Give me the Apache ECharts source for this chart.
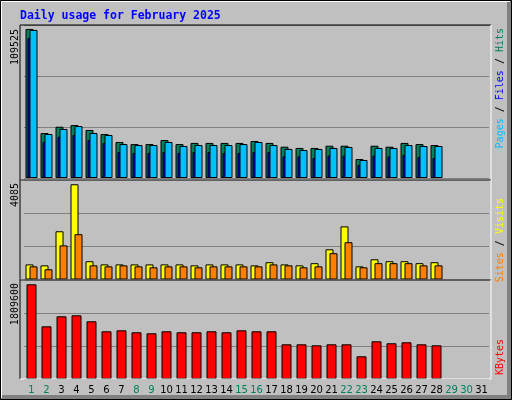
<!DOCTYPE html>
<html>
<head>
<meta charset="utf-8">
<script src="https://cdn.jsdelivr.net/npm/echarts@6/dist/echarts.min.js"></script>
<style>
html, body { margin: 0; padding: 0; background: #c0c0c0; }
#chart { width: 512px; height: 400px; }
</style>
</head>
<body>
<div id="chart"></div>
<script>
// daily usage, February 2025
var days = [];
for (var d = 1; d <= 31; d++) days.push(String(d));
var weekendDays = ['1', '2', '8', '9', '15', '16', '22', '23', '29', '30'];

var hits = [106700, 32200, 36700, 37900, 34400, 31500, 25800, 24300, 24300, 27200, 24300, 25100, 25100, 25100, 25100, 26500,
    25100, 22400, 21500, 21500, 23100, 23100, 13600, 23100, 22400, 25100, 24300, 23600];
var files = [106000, 31500, 35100, 37200, 32200, 30800, 24300, 23600, 23600, 25800, 22900, 23600, 23600, 23600, 24300, 25800,
    23600, 20800, 20000, 20800, 21500, 22200, 12900, 21500, 21500, 23600, 22900, 22900];
var pages = [100200, 25800, 29400, 30800, 27200, 25100, 18600, 17900, 17900, 18600, 17900, 18600, 18600, 17900, 17900, 18600,
    18600, 15500, 15500, 14300, 16000, 16000, 9300, 16000, 15500, 16500, 15000, 14300];
var visits = [620, 580, 1980, 3910, 750, 620, 620, 620, 620, 620, 620, 580, 620, 620, 620, 580,
    710, 620, 580, 670, 1240, 2180, 540, 830, 750, 750, 670, 710];
var sites = [540, 420, 1400, 1860, 580, 540, 580, 540, 500, 540, 540, 500, 540, 540, 540, 540,
    620, 580, 500, 540, 1080, 1530, 500, 670, 670, 670, 580, 580];
var kbytes = [1731000, 963000, 1146000, 1164000, 1055000, 872000, 890000, 854000, 835000, 872000, 854000, 854000, 872000, 854000, 890000, 872000,
    872000, 634000, 634000, 616000, 634000, 634000, 415000, 689000, 653000, 671000, 634000, 616000];

var maxLabels = ['109525', '4085', '1809600'];
var axisMax = [109525, 4085, 1809600];

var chart = echarts.init(document.getElementById('chart'));

var FONT = '"DejaVu Sans Mono", monospace';

function yAxisFor(i) {
    return {
        gridIndex: i, type: 'value', min: 0, max: axisMax[i], interval: axisMax[i] / 3,
        axisLabel: { show: false }, axisLine: { show: false }, axisTick: { show: false },
        splitLine: { lineStyle: { color: '#808080', width: 1 } }
    };
}
function xAxisFor(i) {
    var bottom = i === 2;
    return {
        gridIndex: i, type: 'category', data: days,
        axisLine: { show: false }, axisTick: { show: false },
        axisLabel: bottom ? {
            show: true, interval: 0, margin: 6, fontFamily: 'DejaVu Sans', fontSize: 10,
            formatter: function (v) { return weekendDays.indexOf(v) >= 0 ? '{w|' + v + '}' : '{n|' + v + '}'; },
            rich: { w: { color: '#00805c', fontSize: 10 }, n: { color: '#000', fontSize: 10 } }
        } : { show: false }
    };
}
function barSeries(name, data, color, idx, width, gap) {
    return {
        name: name, type: 'bar', xAxisIndex: idx, yAxisIndex: idx, data: data,
        barWidth: width, barGap: gap, animation: false,
        itemStyle: { color: color, borderColor: '#000', borderWidth: 1 }
    };
}

function vtext(x, y, text, rich, align) {
    return {
        type: 'text', x: x, y: y, rotation: Math.PI / 2, z: 10,
        style: { text: text, rich: rich, align: align, verticalAlign: 'middle', font: '10px ' + FONT, fill: '#000' }
    };
}
function frame(top, h) {
    return [
        { type: 'line', shape: { x1: 20, y1: top, x2: 491, y2: top }, style: { stroke: '#000', lineWidth: 1 }, z: 5 },
        { type: 'line', shape: { x1: 20, y1: top, x2: 20, y2: top + h }, style: { stroke: '#000', lineWidth: 1 }, z: 5 },
        { type: 'line', shape: { x1: 491, y1: top, x2: 491, y2: top + h }, style: { stroke: '#fff', lineWidth: 1 }, z: 5 },
        { type: 'line', shape: { x1: 20, y1: top + h, x2: 491, y2: top + h }, style: { stroke: '#fff', lineWidth: 1 }, z: 5 }
    ];
}

var graphics = [
    { type: 'rect', shape: { x: 507, y: 0, width: 5, height: 400 }, style: { fill: '#808080' }, z: 1 },
    { type: 'rect', shape: { x: 0, y: 395, width: 512, height: 5 }, style: { fill: '#808080' }, z: 1 },
    { type: 'rect', shape: { x: 0.5, y: 0.5, width: 511, height: 399 }, style: { fill: null, stroke: '#000', lineWidth: 1 }, z: 2 },
    { type: 'polyline', shape: { points: [[1.5, 398], [1.5, 1.5], [510, 1.5]] }, style: { stroke: '#fff', lineWidth: 1 }, z: 2 },
    { type: 'text', x: 20, y: 16, style: { text: 'Daily usage for February 2025', font: 'bold 11.5px ' + FONT, fill: '#0000ff', verticalAlign: 'middle' } },
    vtext(15, 29, maxLabels[0], null, 'right'),
    vtext(15, 183, maxLabels[1], null, 'right'),
    vtext(15, 283, maxLabels[2], null, 'right'),
    vtext(500, 28, '{p|Pages} / {f|Files} / {h|Hits}', {
        p: { fill: '#00c0ff', font: '10px ' + FONT }, f: { fill: '#0000ff', font: '10px ' + FONT }, h: { fill: '#00805c', font: '10px ' + FONT }
    }, 'right'),
    vtext(500, 198, '{s|Sites} / {v|Visits}', {
        s: { fill: '#ff8000', font: '10px ' + FONT }, v: { fill: '#ffff00', font: '10px ' + FONT }
    }, 'right'),
    vtext(500, 339, '{k|KBytes}', { k: { fill: '#ff0000', font: '10px ' + FONT } }, 'right')
].concat(frame(25, 155), frame(180, 100), frame(280, 99));

chart.setOption({
    backgroundColor: '#c0c0c0',
    animation: false,
    grid: [
        { left: 24, width: 465, top: 25, height: 153 },
        { left: 24, width: 465, top: 180, height: 99.5 },
        { left: 24, width: 465, top: 280, height: 99 }
    ],
    xAxis: [xAxisFor(0), xAxisFor(1), xAxisFor(2)],
    yAxis: [yAxisFor(0), yAxisFor(1), yAxisFor(2)],
    series: [
        barSeries('Hits', hits, '#00805c', 0, 8, '-75%'),
        barSeries('Pages', pages, '#0000ff', 0, 8, '-75%'),
        barSeries('Files', files, '#00c0ff', 0, 8, '-75%'),
        barSeries('Visits', visits, '#ffff00', 1, 8, '-50%'),
        barSeries('Sites', sites, '#ff8000', 1, 8, '-50%'),
        barSeries('KBytes', kbytes, '#ff0000', 2, 10, '0%')
    ],
    graphic: graphics
});
</script>
</body>
</html>
